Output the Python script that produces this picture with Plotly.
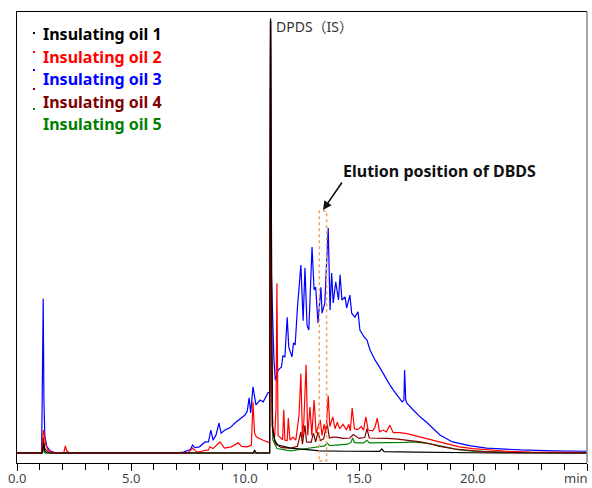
import plotly.graph_objects as go

# ---- data: (retention time [min], relative intensity) ----
OIL1 = [(0, 0), (1.10, 0), (1.14, 1.0), (1.17, 2.3), (1.22, 0.5), (1.30, 0), (10.35, 0), (10.42, 0.6),
        (10.50, 0), (11.08, 0), (11.12, 98.5), (11.15, 40), (11.20, 6), (11.30, 2.8), (11.45, 1.8),
        (12.0, 1.1), (12.6, 0.8), (13.3, 0.5), (14.5, 0.4), (15.9, 0.35), (16.0, 0.9), (16.1, 0.3),
        (17.5, 0.2), (19.0, 0.1), (21.0, 0.0), (25.0, 0.0)]

OIL2 = [(0, 0), (1.08, 0), (1.12, 3), (1.16, 5.2), (1.20, 4), (1.26, 2), (1.35, 0.8), (1.5, 0.2), (1.7, 0),
        (2.05, 0), (2.12, 1.6), (2.18, 0.5), (2.3, 0), (7.5, 0), (7.7, 1.1), (7.9, 0.2), (8.2, 0.5),
        (8.4, 0.7), (8.46, 1.4), (8.6, 1.0), (8.9, 2.5), (9.1, 1.1), (9.4, 1.4), (9.7, 2.3), (9.85, 1.5),
        (10.1, 1.4), (10.28, 1.8), (10.35, 11.6), (10.42, 4.5), (10.5, 3.6), (10.8, 2.9), (11.08, 2.3),
        (11.12, 98), (11.15, 30), (11.2, 6), (11.3, 3.5), (11.36, 10), (11.40, 38.5), (11.45, 4),
        (11.55, 3.4), (11.65, 3.0), (11.7, 9.8), (11.75, 2.9), (11.85, 2.8), (11.9, 7.9), (11.97, 2.9),
        (12.1, 3.6), (12.23, 2.9), (12.37, 8.6), (12.45, 18), (12.52, 3.6), (12.58, 7), (12.68, 20),
        (12.75, 4), (12.85, 10.4), (12.93, 4), (13.03, 12), (13.12, 4.5), (13.2, 6), (13.3, 7.5),
        (13.38, 4), (13.47, 6.5), (13.55, 4.5), (13.65, 13), (13.72, 6), (13.85, 8.2), (13.95, 5.5),
        (14.05, 7), (14.15, 5.5), (14.3, 6.5), (14.45, 5.2), (14.55, 6.5), (14.62, 5), (14.7, 10.2),
        (14.8, 5.5), (14.95, 5.3), (15.1, 6), (15.2, 5.2), (15.3, 8.2), (15.4, 5.2), (15.6, 5.0),
        (15.7, 5.8), (15.8, 7.9), (15.9, 4.8), (16.05, 5.2), (16.2, 4.8), (16.35, 6.3), (16.5, 4.6),
        (16.8, 4.6), (17.1, 4.4), (17.4, 4.0), (17.7, 3.6), (18.1, 3.1), (18.55, 2.5), (19.0, 1.9),
        (19.4, 1.4), (20.0, 1.0), (20.6, 0.7), (21.5, 0.4), (22.5, 0.2), (25, 0.1)]

OIL3 = [(0, 0), (1.08, 0), (1.12, 20), (1.15, 35), (1.18, 12), (1.22, 4), (1.3, 1.5), (1.45, 0.5), (1.7, 0),
        (6.9, 0), (7.3, 0.2), (7.6, 0.8), (7.7, 1.8), (7.8, 1.2), (8.0, 1.4), (8.25, 2.5), (8.4, 2.5),
        (8.5, 5.2), (8.6, 2.9), (8.73, 4.1), (8.86, 6.8), (8.95, 4.5), (9.12, 5.2), (9.34, 5.7),
        (9.56, 6.8), (9.74, 7.5), (10.0, 8.6), (10.1, 9.5), (10.18, 12.5), (10.25, 9.1), (10.35, 15),
        (10.48, 10.9), (10.66, 12), (10.8, 11.6), (11.0, 13.6), (11.08, 13.8), (11.12, 98), (11.16, 40),
        (11.27, 21), (11.33, 16.5), (11.45, 18.8), (11.6, 19.5), (11.66, 22), (11.75, 21.8), (11.85, 30.8),
        (11.92, 24), (12.06, 21.8), (12.13, 25), (12.2, 24.5), (12.3, 33), (12.45, 42.6), (12.55, 30),
        (12.63, 42), (12.72, 29), (12.8, 27.9), (12.94, 46.7), (13.03, 37), (13.1, 37.6), (13.2, 29.5),
        (13.33, 37.6), (13.38, 31.7), (13.5, 34), (13.6, 46), (13.65, 51), (13.73, 32.4), (13.8, 40.8),
        (13.87, 34), (13.98, 38.8), (14.1, 34.7), (14.17, 40.4), (14.25, 34.7), (14.39, 35.4),
        (14.46, 32.9), (14.6, 35.8), (14.68, 31.7), (14.82, 30.8), (14.96, 32), (15.04, 27.9),
        (15.22, 26.3), (15.35, 25.6), (15.48, 23.4), (15.7, 21.1), (15.92, 19.3), (16.14, 17.2),
        (16.36, 15.4), (16.5, 14.3), (16.67, 13.2), (16.89, 11.6), (16.97, 12), (17.0, 18.8), (17.05, 12),
        (17.1, 11.3), (17.37, 9.8), (17.68, 8.2), (18.0, 6.8), (18.55, 4.1), (19.1, 2.5), (19.9, 1.6),
        (20.6, 1.1), (22.1, 0.7), (23.5, 0.5), (25, 0.4)]

OIL4 = [(0, 0), (1.1, 0), (1.15, 3.5), (1.22, 1), (1.35, 0.3), (1.5, 0), (11.08, 0), (11.12, 98), (11.16, 25),
        (11.22, 5), (11.35, 2), (11.6, 1.2), (12.0, 1.1), (12.3, 1.5), (12.45, 4.8), (12.52, 2), (12.63, 6.3),
        (12.7, 2.5), (12.9, 2.4), (13.0, 4.5), (13.1, 2.5), (13.2, 4.8), (13.3, 2.8), (13.45, 3.2),
        (13.6, 6.8), (13.7, 3.4), (13.85, 3.6), (14.0, 3.6), (14.3, 3.3), (14.6, 3.4), (14.75, 4.2),
        (15.0, 3.3), (15.25, 3.5), (15.35, 5.5), (15.45, 3.4), (15.8, 3.4), (16.2, 3.3), (16.6, 3.2),
        (17.2, 2.9), (17.7, 2.5), (18.1, 2.1), (18.55, 1.5), (19.2, 0.9), (19.9, 0.6), (20.5, 0.3),
        (22, 0.1), (25, 0)]

OIL5 = [(0, 0), (1.12, 0), (1.16, 1.0), (1.22, 0), (11.08, 0), (11.12, 98), (11.16, 20), (11.22, 3),
        (11.4, 1), (12.0, 0.5), (12.55, 0.9), (13.0, 1.2), (13.3, 1.4), (13.5, 1.6), (13.6, 2.3),
        (13.7, 1.7), (14.0, 1.8), (14.5, 2.0), (14.65, 2.4), (14.72, 3.4), (14.8, 2.4), (14.9, 2.3),
        (15.2, 2.3), (15.35, 2.9), (15.45, 2.3), (16.2, 2.3), (17.0, 2.4), (17.4, 2.5), (18.0, 2.2),
        (18.55, 1.6), (19.0, 1.1), (19.4, 0.7), (20.0, 0.4), (21, 0.2), (25, 0)]

SERIES_NAMES = ["Insulating oil 1", "Insulating oil 2", "Insulating oil 3", "Insulating oil 4", "Insulating oil 5"]
SERIES_DATA = [OIL1, OIL2, OIL3, OIL4, OIL5]
COLORS = ["#000000", "#ff0000", "#0000ff", "#800000", "#008000"]

TICK_VALS = [0, 5, 10, 15, 20, 25]
TICK_TEXT = ["0.0", "5.0", "10.0", "15.0", "20.0", ""]
DBDS_WINDOW = (13.26, 13.58)

# ---- layout geometry (page pixels) ----
W, H = 592, 488
PX_LEFT, PX_RIGHT, PX_TOP, PX_BOTTOM = 17, 587, 12, 463
L, T = PX_LEFT, PX_TOP
R, B = W - PX_RIGHT, H - PX_BOTTOM
PW, PH = PX_RIGHT - PX_LEFT, PX_BOTTOM - PX_TOP
Y_MIN, Y_MAX = -2.27, 100


def px_x(px):
    return (px - PX_LEFT) / PW


def px_y(py):
    return (PX_BOTTOM - py) / PH


fig = go.Figure()

# draw order: blue at bottom, black on top
for idx in [2, 4, 3, 1, 0]:
    data = SERIES_DATA[idx]
    fig.add_trace(go.Scatter(
        x=[p[0] for p in data], y=[p[1] for p in data], mode="lines",
        name=SERIES_NAMES[idx], line=dict(color=COLORS[idx], width=1.2),
        showlegend=False, hoverinfo="skip"))

FONT = "Noto Sans, Open Sans, DejaVu Sans, sans-serif"

annotations = []
shapes = []
legend_text_y = [34, 57, 79, 102, 124]
legend_dot_y = [33, 52, 70, 89, 109]
for i, name in enumerate(SERIES_NAMES):
    annotations.append(dict(
        xref="paper", yref="paper", x=px_x(41), y=px_y(legend_text_y[i]),
        xanchor="left", yanchor="middle", showarrow=False,
        text="<b>%s</b>" % name, font=dict(family=FONT, size=16, color=COLORS[i])))
    shapes.append(dict(
        type="rect", xref="paper", yref="paper",
        x0=px_x(33), x1=px_x(35), y0=px_y(legend_dot_y[i] + 1), y1=px_y(legend_dot_y[i] - 1),
        fillcolor=COLORS[i], line=dict(width=0)))

# x tick labels (placed as annotations so they sit exactly under the ticks)
for tv, tt in zip(TICK_VALS, TICK_TEXT):
    if tt:
        annotations.append(dict(
            xref="x", yref="paper", x=tv, y=px_y(478), xanchor="center", yanchor="middle",
            showarrow=False, text=tt, font=dict(family=FONT, size=13, color="#444444")))

# DPDS label
annotations.append(dict(
    xref="paper", yref="paper", x=px_x(274), y=px_y(27), xanchor="left", yanchor="middle",
    showarrow=False, text="DPDS（IS）",
    font=dict(family="Noto Sans, Noto Sans CJK JP, sans-serif", size=14, color="#333333")))

# DBDS label and arrow
annotations.append(dict(
    xref="paper", yref="paper", x=px_x(341), y=px_y(171), xanchor="left", yanchor="middle",
    showarrow=False, text="<b>Elution position of DBDS</b>",
    font=dict(family=FONT, size=16, color="#111111")))
annotations.append(dict(
    xref="x", yref="y", x=(323 - PX_LEFT) / PW * 25, y=Y_MAX - (210 - PX_TOP) / PH * (Y_MAX - Y_MIN),
    ax=20, ay=-29, text="", showarrow=True, arrowhead=2, arrowsize=1.1, arrowwidth=1.6,
    arrowcolor="#111111"))

# "min" axis unit
annotations.append(dict(
    xref="paper", yref="paper", x=px_x(590), y=px_y(478), xanchor="right", yanchor="middle",
    showarrow=False, text="min", font=dict(family=FONT, size=13, color="#444444")))

# dotted DBDS elution window
shapes.append(dict(
    type="rect", xref="x", yref="y", x0=DBDS_WINDOW[0], x1=DBDS_WINDOW[1], y0=-1.8, y1=54.9,
    line=dict(color="#f4a460", width=1.5, dash="dot"), fillcolor="rgba(0,0,0,0)"))

# right frame edge (grey)
shapes.append(dict(type="line", xref="paper", yref="paper", x0=1, x1=1, y0=0, y1=1,
                   line=dict(color="#888888", width=1.5)))

fig.update_layout(
    width=W, height=H,
    margin=dict(l=L, r=R, t=T, b=B, pad=0, autoexpand=False),
    paper_bgcolor="white", plot_bgcolor="white",
    showlegend=False,
    annotations=annotations, shapes=shapes,
    xaxis=dict(range=[0, 25], showgrid=False, zeroline=False, showline=True, linecolor="#000000",
               linewidth=1, mirror=True, ticks="outside", ticklen=7, tickcolor="#000000",
               tickmode="array", tickvals=TICK_VALS, showticklabels=False, automargin=False,
               minor=dict(tickmode="linear", tick0=0, dtick=1, ticks="outside", ticklen=6,
                          tickcolor="#000000", showgrid=False)),
    yaxis=dict(range=[Y_MIN, Y_MAX], showgrid=False, zeroline=False, showline=True, automargin=False,
               linecolor="#000000", linewidth=1, showticklabels=False, ticks=""),
)

# remove the browser's default 8 px page margin so the figure fills the window exactly
fig.write_html("out.html", config={"displayModeBar": False},
               post_script="document.body.style.margin='0';")
